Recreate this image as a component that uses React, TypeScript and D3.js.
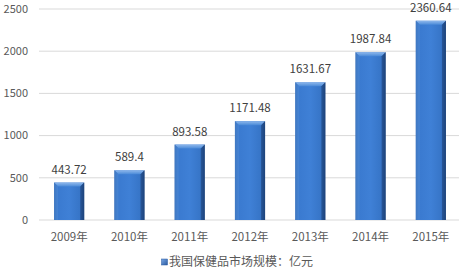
import React from "react";
import * as d3 from "d3";

const categories = ["2009年", "2010年", "2011年", "2012年", "2013年", "2014年", "2015年"];
const values = [443.72, 589.4, 893.58, 1171.48, 1631.67, 1987.84, 2360.64];
const valueLabels = ["443.72", "589.4", "893.58", "1171.48", "1631.67", "1987.84", "2360.64"];
const yTicks = [0, 500, 1000, 1500, 2000, 2500];
const legendLabel = "我国保健品市场规模：亿元";

export default function App() {
  const W = 460, H = 273;
  const x = d3.scaleBand<string>().domain(categories).range([39, 461]).paddingInner(0.5).paddingOuter(0.25);
  const y = d3.scaleLinear().domain([0, 2500]).range([220, 9]);
  const font = "'Noto Sans CJK SC', 'DejaVu Sans', sans-serif";
  const bw = x.bandwidth();
  return (
    <svg width={W} height={H} style={{ position: "absolute", left: 0, top: 0, background: "#fff" }} fontFamily={font}>
      <defs>
        <linearGradient id="barG" x1="0" x2="1" y1="0" y2="0">
          <stop offset="0" stopColor="#2c5fa6" />
          <stop offset="0.12" stopColor="#3a7ad0" />
          <stop offset="0.5" stopColor="#3f80d6" />
          <stop offset="0.88" stopColor="#3674c6" />
          <stop offset="1" stopColor="#1f4a86" />
        </linearGradient>
        <linearGradient id="topG" x1="0" x2="0" y1="0" y2="1">
          <stop offset="0" stopColor="#8fb8ec" />
          <stop offset="1" stopColor="#4a8ad8" />
        </linearGradient>
        <linearGradient id="legG" x1="0" x2="1" y1="0" y2="1">
          <stop offset="0" stopColor="#7aa8e6" />
          <stop offset="1" stopColor="#2a5aa0" />
        </linearGradient>
      </defs>
      {yTicks.map((t) => (
        <g key={t}>
          <line x1={39} x2={459} y1={y(t)} y2={y(t)} stroke="#d9d9d9" strokeWidth={1} />
          <text x={28} y={y(t)} dy="0.35em" textAnchor="end" fontSize={11} fill="#595959">{t}</text>
        </g>
      ))}
      {categories.map((c, i) => {
        const x0 = x(c)!;
        const y0 = y(values[i]);
        const h = y(0) - y0;
        const bev = 4;
        return (
          <g key={c}>
            <rect x={x0} y={y0} width={bw} height={h} fill="url(#barG)" />
            <polygon points={`${x0},${y0} ${x0 + bw},${y0} ${x0 + bw - bev},${y0 + bev} ${x0 + bev},${y0 + bev}`} fill="url(#topG)" />
            <polygon points={`${x0},${y0} ${x0 + bev},${y0 + bev} ${x0 + bev},${y0 + h} ${x0},${y0 + h}`} fill="#4d88d4" opacity={0.6} />
            <polygon points={`${x0 + bw},${y0} ${x0 + bw - bev},${y0 + bev} ${x0 + bw - bev},${y0 + h} ${x0 + bw},${y0 + h}`} fill="#1d3f74" opacity={0.6} />
            <text x={x0 + bw / 2} y={y0 - 9} textAnchor="middle" fontSize={11.5} fill="#404040">{valueLabels[i]}</text>
            <text x={x0 + bw / 2} y={241} textAnchor="middle" fontSize={11.5} fill="#595959">{c}</text>
          </g>
        );
      })}
      <rect x={161.5} y={259} width={6} height={6} fill="url(#legG)" stroke="#2a5aa0" strokeWidth={0.5} />
      <text x={169} y={266} fontSize={12} fill="#595959">{legendLabel}</text>
    </svg>
  );
}
